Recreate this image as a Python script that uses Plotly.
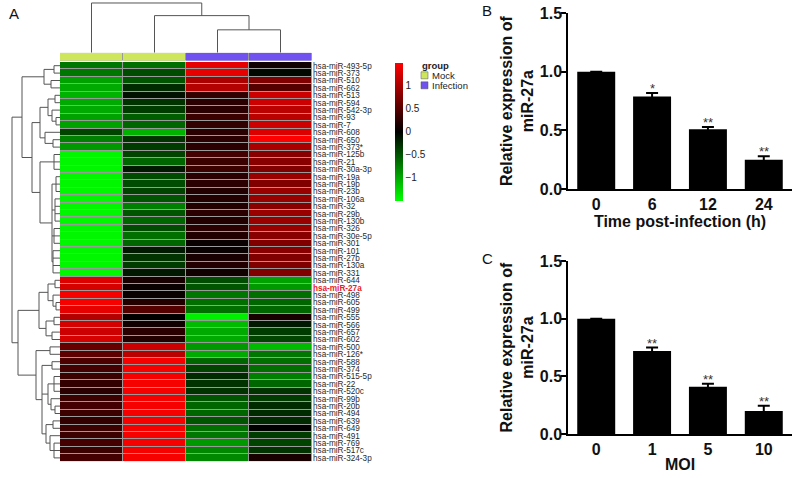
import plotly.graph_objects as go

W, H = 798, 478
FONT = "Arial, Liberation Sans, sans-serif"

# ---------------- data: panel A (heatmap) ----------------
mirnas = ["hsa-miR-493-5p", "hsa-miR-373", "hsa-miR-510", "hsa-miR-662", "hsa-miR-513",
          "hsa-miR-594", "hsa-miR-542-3p", "hsa-miR-93", "hsa-miR-7", "hsa-miR-608",
          "hsa-miR-650", "hsa-miR-373*", "hsa-miR-125b", "hsa-miR-21", "hsa-miR-30a-3p",
          "hsa-miR-19a", "hsa-miR-19b", "hsa-miR-23b", "hsa-miR-106a", "hsa-miR-32",
          "hsa-miR-29b", "hsa-miR-130b", "hsa-miR-326", "hsa-miR-30e-5p", "hsa-miR-301",
          "hsa-miR-101", "hsa-miR-27b", "hsa-miR-130a", "hsa-miR-331", "hsa-miR-644",
          "hsa-miR-27a", "hsa-miR-498", "hsa-miR-605", "hsa-miR-499", "hsa-miR-555",
          "hsa-miR-566", "hsa-miR-657", "hsa-miR-602", "hsa-miR-500", "hsa-miR-126*",
          "hsa-miR-588", "hsa-miR-374", "hsa-miR-515-5p", "hsa-miR-22", "hsa-miR-520c",
          "hsa-miR-99b", "hsa-miR-20b", "hsa-miR-494", "hsa-miR-639", "hsa-miR-649",
          "hsa-miR-491", "hsa-miR-769", "hsa-miR-517c", "hsa-miR-324-3p"]
highlight = "hsa-miR-27a"

mock1 = [-0.7, -0.7, -0.95, -1.0, -1.05, -1.0, -1.0, -0.95, -0.95, -0.4, -0.75, -0.9,
         -1.45, -1.45, -1.45, -1.45, -1.45, -1.45, -1.45, -1.45, -1.45, -1.45, -1.45, -1.45,
         -1.45, -1.45, -1.45, -1.45, -1.45,
         1.3, 1.25, 1.45, 1.45, 1.35, 1.05, 1.25, 1.2, 1.25,
         0.6, 0.55, 0.45, 0.4, 0.35, 0.3, 0.25, 0.35, 0.4, 0.35, 0.3, 0.35, 0.35, 0.4, 0.35, 0.4]
mock2 = [-0.65, -0.45, -0.5, -0.25, -0.1, -0.3, -0.35, -0.55, -0.6, -1.05, -0.3, -0.35,
         -0.4, -0.6, -0.15, -0.45, -0.45, -0.4, -0.5, -0.75, -0.5, -0.6, -0.45, -0.65,
         -0.6, -0.15, -0.3, -0.35, -0.15,
         0.15, 0.05, 0.05, 0.2, 0.5, 0.0, 0.1, 0.25, 0.2,
         1.2, 1.1, 1.45, 1.45, 1.45, 1.45, 1.45, 1.45, 1.45, 1.45, 1.45, 1.45, 1.45, 1.45, 1.45, 1.45]
inf1 = [1.35, 1.35, 1.0, 1.05, 0.3, 0.25, 0.25, 0.35, 0.3, 0.25, 0.25, 0.25,
        0.4, 0.35, 0.35, 0.25, 0.25, 0.2, 0.2, 0.2, 0.25, 0.2, 0.25, 0.2,
        0.05, 0.05, 0.15, 0.2, 0.1,
        -0.45, -0.5, -0.7, -0.65, -0.65, -1.4, -1.1, -1.0, -1.0,
        -0.9, -1.0, -0.6, -0.4, -0.25, -0.3, -0.3, -0.5, -0.6, -0.6, -0.5, -0.65, -0.7, -0.9, -0.8, -0.8]
inf2 = [0.1, -0.05, 0.75, 0.5, 1.2, 1.2, 1.1, 1.1, 1.2, 1.3, 1.5, 1.0,
        0.8, 0.8, 0.75, 0.9, 0.75, 0.9, 0.9, 0.8, 0.9, 0.9, 0.9, 0.8,
        0.75, 0.8, 0.75, 0.75, 0.75,
        -0.95, -0.9, -0.65, -0.6, -0.6, 0.15, -0.15, -0.35, -0.4,
        -1.1, -0.7, -0.65, -0.65, -0.75, -0.6, -0.3, -0.35, -0.25, -0.25, -0.25, 0.0,
        -0.35, -0.4, -0.3, 0.15]
samples = ["Mock", "Mock", "Infection", "Infection"]
groups = ["Mock", "Infection"]
group_colors = {"Mock": "#cde65c", "Infection": "#7052f0"}

# dendrograms: [height, child, child, ...]; leaves are row / column indices
row_tree = [48,
            [38,
             [16, [6, 0, 1], [9, 2, 3]],
             [28,
              [20, [12, [5, 4, 5], [8, 6, [4, 7, 8]]], [15, 9, [7, 10, 11]]],
              [20, [6, 12, 13, 14],
               [8, [4, 15, 16, 17], [5, 18, 19, 20, 21], [6, 22, 23, 24], [7, 25, 26, 27, 28]]]]],
            [42,
             [21, [12, [5, 29, 30], [7, 31, [4, 32, 33]]], [14, [6, 34, 35], [8, 36, 37]]],
             [24, [10, 38, 39],
              [18, [8, 40, 41],
               [12, [6, 42, 43, 44], [9, 45, [5, 46, 47]]],
               [14, [7, 48, 49], [10, 50, [6, 51, 52, 53]]]]]]]
col_tree = [50, 0, [37.3, 1, [23, 2, 3]]]

# ---------------- data: panels B and C ----------------
time_labels = ["0", "6", "12", "24"]
time_values = [1.0, 0.79, 0.51, 0.25]
time_errors = [0.0, 0.03, 0.02, 0.03]
time_stars = ["", "*", "**", "**"]

moi_labels = ["0", "1", "5", "10"]
moi_values = [1.0, 0.72, 0.41, 0.20]
moi_errors = [0.0, 0.03, 0.025, 0.045]
moi_stars = ["", "**", "**", "**"]


def px_x(p):
    return p / W


def px_y(p):
    return 1 - p / H


def dendro(node, a, b):
    """returns (position, height); appends line segments to a (pos) and b (height)"""
    if not isinstance(node, list):
        return float(node), 0.0
    h = node[0]
    kids = [dendro(c, a, b) for c in node[1:]]
    pos = [k[0] for k in kids]
    for p, ph in kids:
        a += [p, p, None]
        b += [ph, h, None]
    a += [min(pos), max(pos), None]
    b += [h, h, None]
    return (min(pos) + max(pos)) / 2, h


fig = go.Figure()
n = len(mirnas)
rows = list(range(n))
z = [[mock1[i], mock2[i], inf1[i], inf2[i]] for i in rows]

green_black_red = [[0.0, "#00ff00"], [0.5, "#000000"], [1.0, "#ff0000"]]
fig.add_trace(go.Heatmap(
    z=z, x=[0, 1, 2, 3], y=rows, colorscale=green_black_red, zmin=-1.5, zmax=1.5,
    xgap=1, ygap=1, xaxis="x", yaxis="y", hoverinfo="skip",
    colorbar=dict(x=px_x(395), xanchor="left", y=px_y(62.7), yanchor="top",
                  len=138 / H, lenmode="fraction", thickness=8, xpad=0, ypad=0,
                  outlinewidth=0, ticks="", tickvals=[1, 0.5, 0, -0.5, -1],
                  ticktext=["1", "0.5", "0", "\u22120.5", "\u22121"],
                  tickfont=dict(family=FONT, size=10, color="#222"))))

# group colour bar
gidx = [groups.index(s) for s in samples]
fig.add_trace(go.Heatmap(
    z=[gidx], x=[0, 1, 2, 3], y=[0],
    colorscale=[[0, group_colors["Mock"]], [1, group_colors["Infection"]]],
    zmin=0, zmax=1, showscale=False, xgap=1, ygap=0, xaxis="x2", yaxis="y2", hoverinfo="skip"))

# top (column) dendrogram
ca, cb = [], []
dendro(col_tree, ca, cb)
fig.add_trace(go.Scatter(x=ca, y=cb, mode="lines", line=dict(color="#555", width=1),
                         xaxis="x3", yaxis="y3", hoverinfo="skip"))

# left (row) dendrogram
ra, rb = [], []
dendro(row_tree, ra, rb)
fig.add_trace(go.Scatter(x=rb, y=ra, mode="lines", line=dict(color="#555", width=1),
                         xaxis="x4", yaxis="y", hoverinfo="skip"))

# bar charts
def bars(xa, ya, labels, vals, errs):
    fig.add_trace(go.Bar(
        x=list(range(len(labels))), y=vals, width=0.68, marker=dict(color="black", line=dict(width=0)),
        error_y=dict(type="data", array=errs, visible=True, color="black", thickness=2, width=6),
        xaxis=xa, yaxis=ya, hoverinfo="skip"))

bars("x5", "y5", time_labels, time_values, time_errors)
bars("x6", "y6", moi_labels, moi_values, moi_errors)

ticktext = [("<span style='color:#e8202a'><b>%s</b></span>" % m) if m == highlight else m for m in mirnas]

hx = [px_x(60), px_x(312)]
layout = dict(
    template="none",
    width=W, height=H, margin=dict(l=0, r=0, t=0, b=0, pad=0, autoexpand=False),
    paper_bgcolor="white", plot_bgcolor="white", showlegend=False,
    font=dict(family=FONT, color="#222"),
    xaxis=dict(domain=hx, range=[-0.5, 3.5], visible=False, anchor="y"),
    yaxis=dict(domain=[px_y(461.6), px_y(62)], range=[n - 0.5, -0.5], anchor="x", side="right",
               tickvals=rows, ticktext=ticktext, ticks="", showline=False, showgrid=False,
               zeroline=False, tickfont=dict(family=FONT, size=8.2, color="#2a2a2a"),
               ticklabelstandoff=0, automargin=False),
    xaxis2=dict(domain=hx, range=[-0.5, 3.5], visible=False, anchor="y2"),
    yaxis2=dict(domain=[px_y(60.7), px_y(52.7)], range=[-0.5, 0.5], visible=False, anchor="x2"),
    xaxis3=dict(domain=hx, range=[-0.5, 3.5], visible=False, anchor="y3"),
    yaxis3=dict(domain=[px_y(52.7), px_y(1)], range=[0, 52], visible=False, anchor="x3"),
    xaxis4=dict(domain=[0, px_x(60)], range=[60, 0], visible=False, anchor="y"),
)

def bar_axes(xa, ya, top, bottom, labels, title):
    layout["xaxis" + xa[1:]] = dict(
        domain=[px_x(568.3), px_x(791.7)], range=[-0.5, 3.5], anchor=ya,
        tickvals=list(range(len(labels))), ticktext=labels, ticks="", showline=True,
        linewidth=2, linecolor="black", showgrid=False, zeroline=False, automargin=False,
        tickfont=dict(family=FONT, size=16, color="#111", weight="bold"),
        title=dict(text=title, font=dict(family=FONT, size=16, color="#111", weight="bold"), standoff=2))
    layout["yaxis" + ya[1:]] = dict(
        domain=[px_y(bottom), px_y(top)], range=[0, 1.5], anchor=xa,
        tickvals=[0, 0.5, 1.0, 1.5], ticktext=["0.0", "0.5", "1.0", "1.5"],
        ticks="outside", ticklen=5, tickwidth=2, tickcolor="black",
        showline=True, linewidth=2, linecolor="black", showgrid=False, zeroline=False,
        ticklabelstandoff=-4, automargin=False,
        tickfont=dict(family=FONT, size=16, color="#111", weight="bold"),
        title=dict(text="Relative expression of<br>miR-27a",
                   font=dict(family=FONT, size=16, color="#111", weight="bold"), standoff=2))

bar_axes("x5", "y5", 13.3, 189, time_labels, "Time post-infection (h)")
bar_axes("x6", "y6", 261, 434, moi_labels, "MOI")

annotations = []
for xa, ya, vals, errs, stars in [("x5", "y5", time_values, time_errors, time_stars),
                                  ("x6", "y6", moi_values, moi_errors, moi_stars)]:
    for i, s in enumerate(stars):
        if s:
            annotations.append(dict(x=i, y=vals[i] + errs[i], xref=xa, yref=ya, text=s,
                                    showarrow=False, yanchor="bottom", yshift=-5,
                                    font=dict(family=FONT, size=13, color="#333")))

for letter, lx, ly in [("A", 7, 13), ("B", 480, 10), ("C", 480, 258)]:
    annotations.append(dict(x=px_x(lx), y=px_y(ly), xref="paper", yref="paper", text=letter,
                            showarrow=False, xanchor="left", yanchor="middle",
                            font=dict(family=FONT, size=15, color="#111")))

# group legend
annotations.append(dict(x=px_x(420), y=px_y(66), xref="paper", yref="paper", text="<b>group</b>",
                        showarrow=False, xanchor="left", yanchor="middle",
                        font=dict(family=FONT, size=9.5, color="#222")))
shapes = [
    dict(type="rect", xref="x", yref="y", x0=-0.5, x1=3.5, y0=-0.5, y1=n - 0.5,
         fillcolor="#9a9a9a", line=dict(width=0), layer="below"),
    dict(type="rect", xref="x2", yref="y2", x0=-0.5, x1=3.5, y0=-0.5, y1=0.5,
         fillcolor="#9a9a9a", line=dict(width=0), layer="below"),
]
for k, g in enumerate(groups):
    cy = 75.3 + 10 * k
    shapes.append(dict(type="rect", xref="paper", yref="paper",
                       x0=px_x(421), x1=px_x(428), y0=px_y(cy + 3.5), y1=px_y(cy - 3.5),
                       fillcolor=group_colors[g], line=dict(color="#555", width=0.5)))
    annotations.append(dict(x=px_x(430), y=px_y(cy), xref="paper", yref="paper", text=g,
                            showarrow=False, xanchor="left", yanchor="middle",
                            font=dict(family=FONT, size=9.5, color="#222")))

layout["annotations"] = annotations
layout["shapes"] = shapes
fig.update_layout(**layout)
fig.write_html("out.html", config={"displayModeBar": False},
               post_script="document.body.style.margin='0px';document.body.style.overflow='hidden';")
